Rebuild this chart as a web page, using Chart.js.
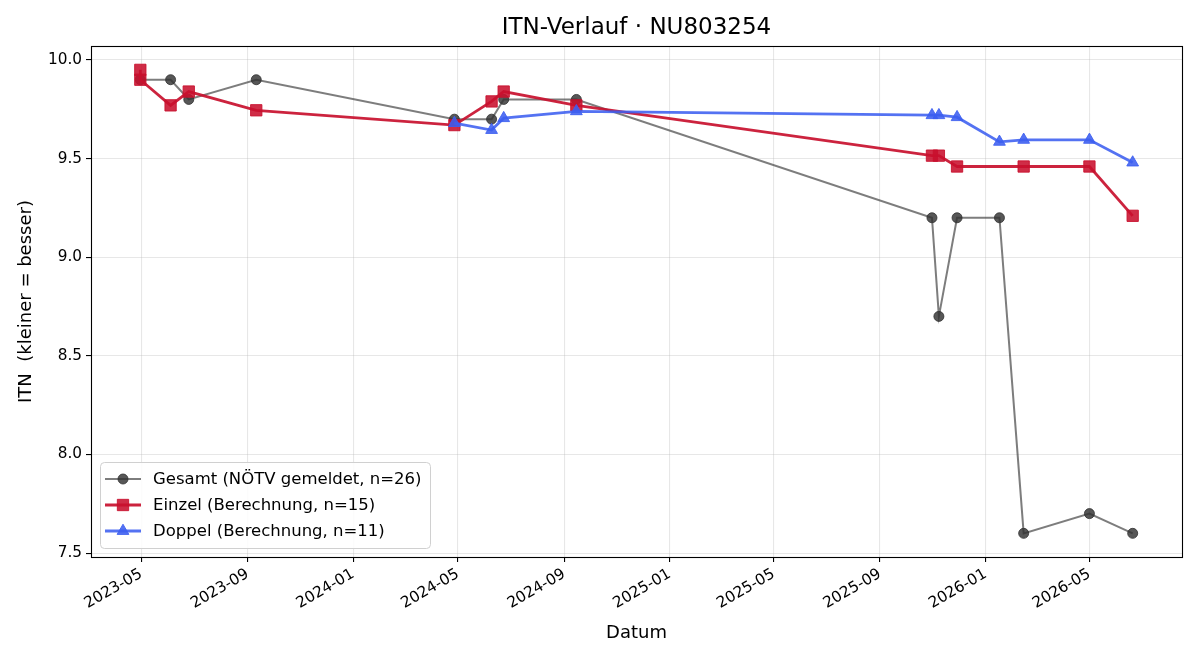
<!DOCTYPE html>
<html>
<head>
<meta charset="utf-8">
<script src="https://cdn.jsdelivr.net/npm/chart.js@4.4.1/dist/chart.umd.min.js"></script>
<style>
  html, body { margin: 0; background: #fff; }
  #wrap { width: 1200px; height: 660px; }
</style>
</head>
<body>
<div id="wrap"><canvas id="itn-chart" width="1200" height="660"></canvas></div>
<script>
// --- Daten ---
const gesamtDates = ['2023-04-30', '2023-06-04', '2023-06-25', '2023-09-11', '2024-04-27', '2024-06-09', '2024-06-23', '2024-09-15',
                     '2025-10-31', '2025-11-08', '2025-11-29', '2026-01-17', '2026-02-14', '2026-05-01', '2026-06-20'];
const gesamtValues = [9.9, 9.9, 9.8, 9.9, 9.7, 9.7, 9.8, 9.8, 9.2, 8.7, 9.2, 9.2, 7.6, 7.7, 7.6];

const einzelDates = ['2023-04-30', '2023-04-30', '2023-06-04', '2023-06-25', '2023-09-11', '2024-04-27', '2024-06-09', '2024-06-23',
                     '2024-09-15', '2025-10-31', '2025-11-08', '2025-11-29', '2026-02-14', '2026-05-01', '2026-06-20'];
const einzelValues = [9.95, 9.9, 9.77, 9.84, 9.745, 9.67, 9.79, 9.84, 9.77, 9.515, 9.515, 9.46, 9.46, 9.46, 9.21];

const doppelDates = ['2024-04-27', '2024-06-09', '2024-06-23', '2024-09-15', '2025-10-31', '2025-11-08', '2025-11-29',
                     '2026-01-17', '2026-02-14', '2026-05-01', '2026-06-20'];
const doppelValues = [9.68, 9.645, 9.705, 9.74, 9.72, 9.72, 9.71, 9.585, 9.595, 9.595, 9.48];

const xTickDates = ['2023-05-01', '2023-09-01', '2024-01-01', '2024-05-01', '2024-09-01', '2025-01-01',
                    '2025-05-01', '2025-09-01', '2026-01-01', '2026-05-01'];
const xTickLabels = ['2023-05', '2023-09', '2024-01', '2024-05', '2024-09', '2025-01', '2025-05', '2025-09', '2026-01', '2026-05'];
const yTicks = [7.5, 8.0, 8.5, 9.0, 9.5, 10.0];

const legendLabels = ['Gesamt (NÖTV gemeldet, n=26)', 'Einzel (Berechnung, n=15)', 'Doppel (Berechnung, n=11)'];

// --- Hilfsfunktionen ---
const toTs = s => Date.parse(s);
const toPoints = (dates, values) => dates.map((d, i) => ({ x: toTs(d), y: values[i] }));

const FONT = 'DejaVu Sans, sans-serif';

const styles = [
  { line: 'rgba(70,70,70,0.7)', fill: 'rgba(50,50,50,0.82)', width: 2, style: 'circle', radius: 5 },
  { line: 'rgba(200,16,46,0.92)', fill: 'rgba(200,16,46,0.88)', width: 2.8, style: 'rect', radius: 8 },
  { line: 'rgba(60,95,240,0.88)', fill: 'rgba(60,95,240,0.88)', width: 2.8, style: 'triangle', radius: 6.8 }
];

// Rahmen um die Plotfläche
const framePlugin = {
  id: 'frame',
  afterDraw(chart) {
    const { ctx, chartArea: a } = chart;
    ctx.save();
    ctx.strokeStyle = '#000';
    ctx.lineWidth = 1.1;
    ctx.strokeRect(Math.round(a.left) + 0.5, Math.round(a.top) + 0.5,
                   Math.round(a.right - a.left), Math.round(a.bottom - a.top));
    ctx.restore();
  }
};

// Legende unten links innerhalb der Plotfläche
const legendPlugin = {
  id: 'innerLegend',
  afterDraw(chart) {
    const { ctx, chartArea: a } = chart;
    const boxX = a.left + 9, boxW = 330, boxH = 86;
    const boxY = a.bottom - 9 - boxH;
    ctx.save();
    ctx.beginPath();
    ctx.roundRect(boxX + 0.5, boxY + 0.5, boxW, boxH, 4);
    ctx.fillStyle = 'rgba(255,255,255,0.85)';
    ctx.fill();
    ctx.strokeStyle = '#d0d0d0';
    ctx.lineWidth = 1;
    ctx.stroke();

    ctx.font = '16.5px ' + FONT;
    ctx.textBaseline = 'middle';
    ctx.textAlign = 'left';
    legendLabels.forEach((label, i) => {
      const s = styles[i];
      const y = boxY + 17 + i * 26;
      ctx.beginPath();
      ctx.strokeStyle = s.line;
      ctx.lineWidth = s.width;
      ctx.moveTo(boxX + 5, y);
      ctx.lineTo(boxX + 41, y);
      ctx.stroke();
      ctx.fillStyle = s.fill;
      ctx.strokeStyle = s.fill;
      ctx.lineWidth = 1;
      Chart.helpers.drawPoint(ctx, { pointStyle: s.style, radius: s.radius, borderWidth: 1 }, boxX + 23, y);
      ctx.fillStyle = '#000';
      ctx.fillText(label, boxX + 53, y + 1);
    });
    ctx.restore();
  }
};

const makeDataset = (label, points, s, order) => ({
  label,
  data: points,
  borderColor: s.line,
  borderWidth: s.width,
  backgroundColor: s.fill,
  pointBackgroundColor: s.fill,
  pointBorderColor: s.fill,
  pointBorderWidth: 1,
  pointStyle: s.style,
  pointRadius: s.radius,
  pointHoverRadius: s.radius,
  tension: 0,
  fill: false,
  order
});

const gridOpts = {
  color: 'rgba(176,176,176,0.3)',
  lineWidth: 1.1,
  tickColor: '#000',
  tickLength: 5,
  drawTicks: true
};

new Chart(document.getElementById('itn-chart'), {
  type: 'line',
  data: {
    datasets: [
      makeDataset(legendLabels[0], toPoints(gesamtDates, gesamtValues), styles[0], 3),
      makeDataset(legendLabels[1], toPoints(einzelDates, einzelValues), styles[1], 2),
      makeDataset(legendLabels[2], toPoints(doppelDates, doppelValues), styles[2], 1)
    ]
  },
  options: {
    responsive: false,
    animation: false,
    layout: { padding: { left: 0, right: 18, top: 0, bottom: 0 } },
    plugins: {
      legend: { display: false },
      tooltip: { enabled: false },
      title: {
        display: true,
        text: 'ITN-Verlauf · NU803254',
        fullSize: false,
        color: '#000',
        font: { family: FONT, size: 23, weight: 'normal' },
        padding: { top: 14, bottom: 4.4 }
      }
    },
    scales: {
      x: {
        type: 'linear',
        min: toTs('2023-03-04'),
        max: toTs('2026-08-16'),
        afterBuildTicks: scale => { scale.ticks = xTickDates.map(d => ({ value: toTs(d) })); },
        afterFit: scale => { scale.height = 103; },
        ticks: {
          autoSkip: false,
          minRotation: 30,
          maxRotation: 30,
          color: '#000',
          padding: 3,
          font: { family: FONT, size: 15.3 },
          callback: (v, i) => xTickLabels[i]
        },
        grid: gridOpts,
        border: { display: true, color: '#000', width: 1 },
        title: {
          display: true,
          text: 'Datum',
          color: '#000',
          font: { family: FONT, size: 18 },
          padding: { top: 4, bottom: 16 }
        }
      },
      y: {
        type: 'linear',
        min: 7.48,
        max: 10.071,
        afterBuildTicks: scale => { scale.ticks = yTicks.map(v => ({ value: v })); },
        afterFit: scale => { scale.width = 91; },
        ticks: {
          color: '#000',
          padding: 4,
          font: { family: FONT, size: 15.3 },
          callback: v => v.toFixed(1)
        },
        grid: gridOpts,
        border: { display: true, color: '#000', width: 1 },
        title: {
          display: true,
          text: 'ITN  (kleiner = besser)',
          color: '#000',
          font: { family: FONT, size: 18 },
          padding: { top: 16, bottom: 4 }
        }
      }
    }
  },
  plugins: [framePlugin, legendPlugin]
});
</script>
</body>
</html>
